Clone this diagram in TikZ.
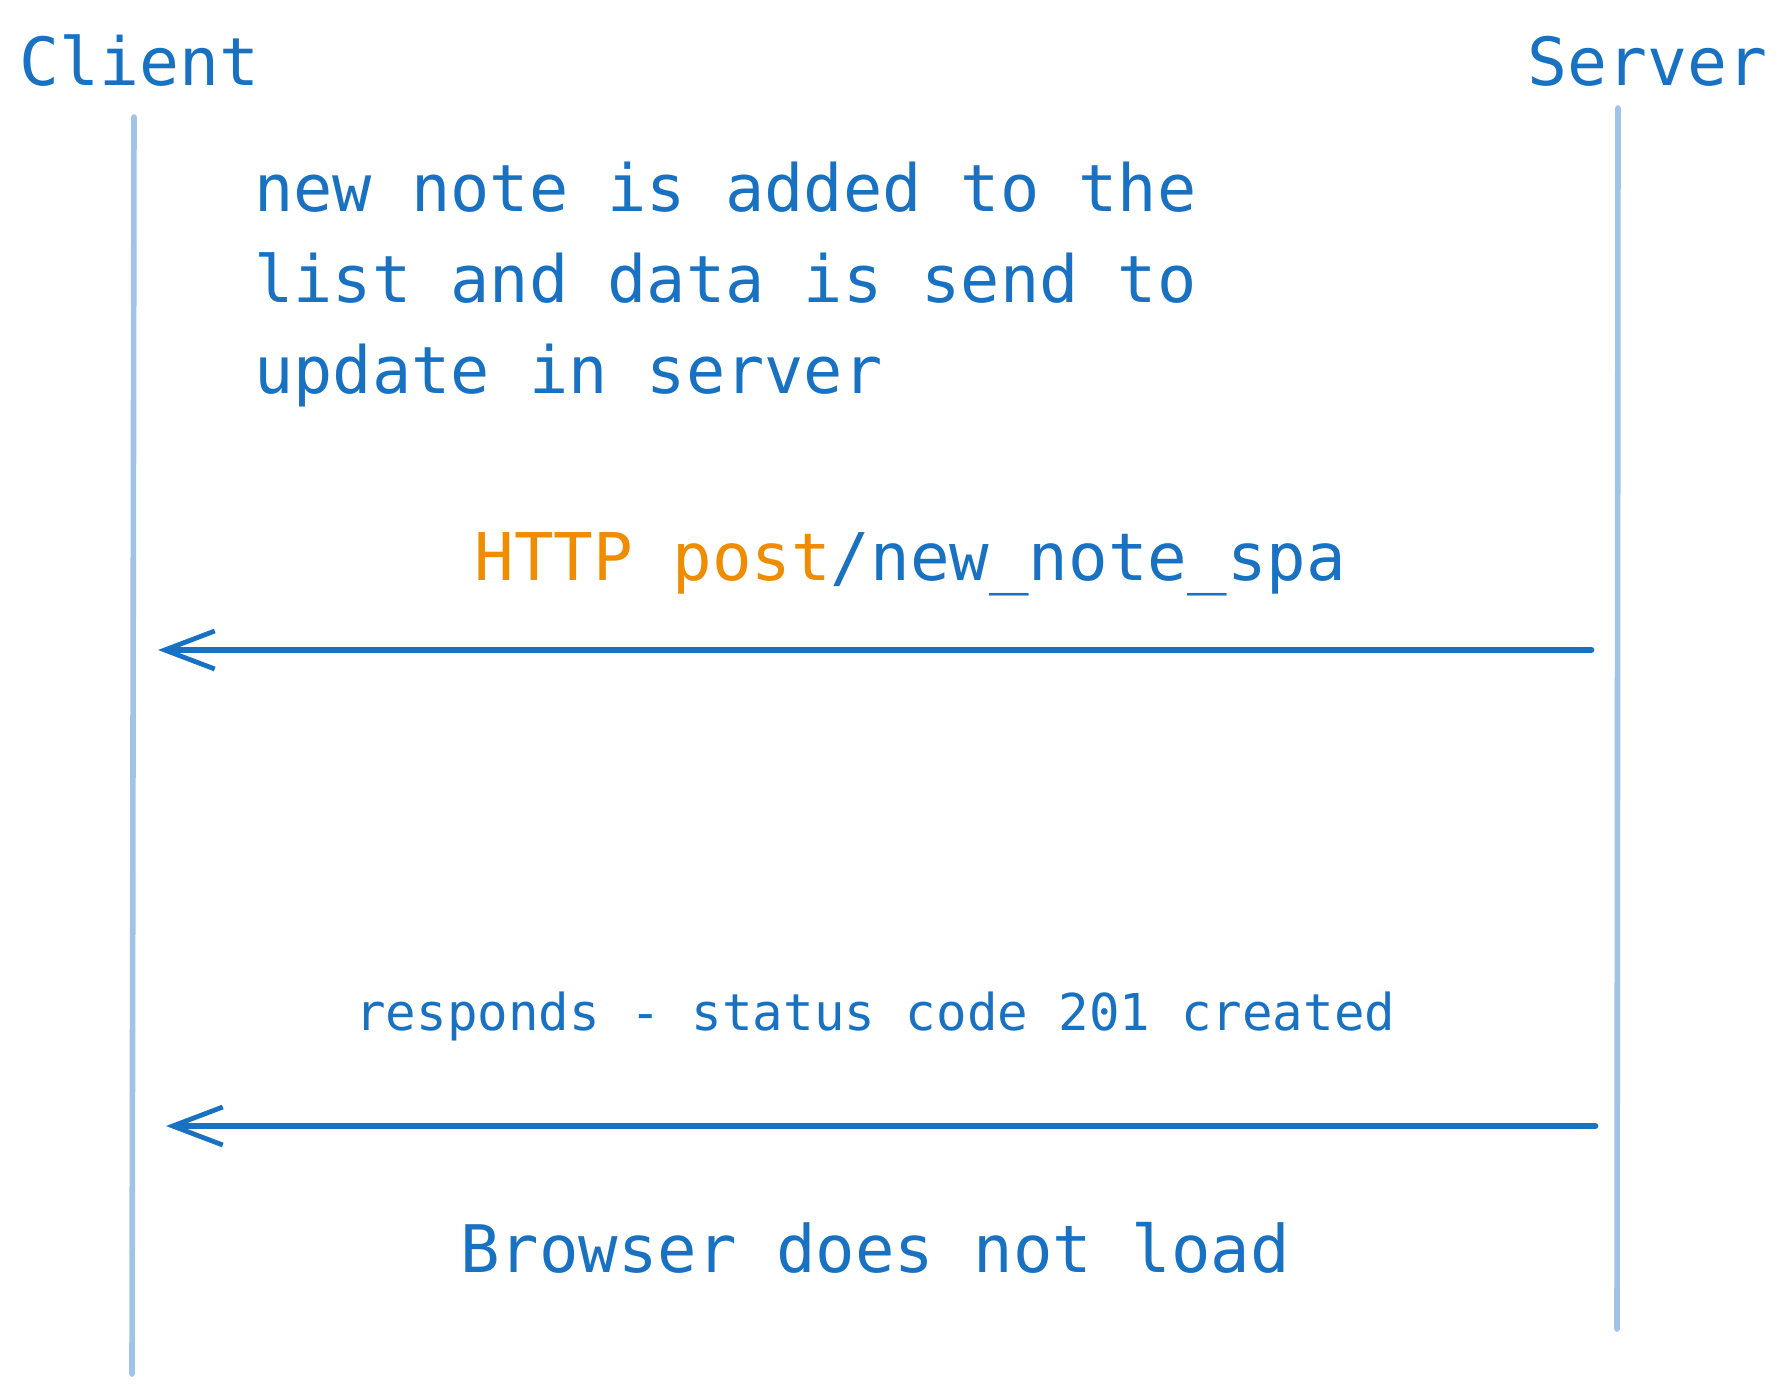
\documentclass[tikz,border=0pt]{standalone}
\usepackage{fontspec}
\setmainfont{DejaVu Sans Mono}
\usetikzlibrary{arrows.meta}
\definecolor{exblue}{RGB}{25,113,194}
\definecolor{lifeblue}{RGB}{160,196,232}
\definecolor{exorange}{RGB}{240,140,0}
\tikzset{
  lbl/.style={inner sep=0pt, anchor=base west, text=exblue, font=\fontsize{32.6}{45.5}\selectfont},
  actor/.style={lbl, font=\fontsize{33.2}{40}\selectfont},
  small/.style={lbl, font=\fontsize{25.4}{30}\selectfont},
  lifeline/.style={draw=lifeblue, line width=2.8pt, line cap=round},
  msg/.style={draw=exblue, line width=3.4pt, line cap=round, -{Straight Barb[length=25pt,width=19pt,line width=2.4pt]}}
}
\begin{document}
\begin{tikzpicture}[x=0.5pt,y=-0.5pt]
\useasboundingbox (0,0) rectangle (1784,1394);
% actors
\node[actor] (client) at (19,85) {Client};
\node[actor] (server) at (1527,85) {Server};
% lifelines
\coordinate (cltop) at (134,117);
\coordinate (clbot) at (132,1374);
\coordinate (svtop) at (1618,108);
\coordinate (svbot) at (1617,1329);
\draw[lifeline] (cltop) -- (clbot);
\draw[lifeline] (svtop) -- (svbot);
% note
\node[lbl, align=left, anchor=north west] (note) at (254,162) {new note is added to the\\list and data is send to\\update in server};
% message 1
\node[lbl, font=\fontsize{32.9}{40}\selectfont] (m1) at (474,580) {\textcolor{exorange}{HTTP post}/new\_note\_spa};
\coordinate (a1s) at (1591,650);
\coordinate (a1e) at (158,650);
\draw[msg] (a1s) -- (a1e);
% message 2
\node[small] (m2) at (355,1030) {responds - status code 201 created};
\coordinate (a2s) at (1595,1126);
\coordinate (a2e) at (166,1126);
\draw[msg] (a2s) -- (a2e);
% footer
\node[lbl, font=\fontsize{32.8}{40}\selectfont] (foot) at (460,1272) {Browser does not load};
\end{tikzpicture}
\end{document}
